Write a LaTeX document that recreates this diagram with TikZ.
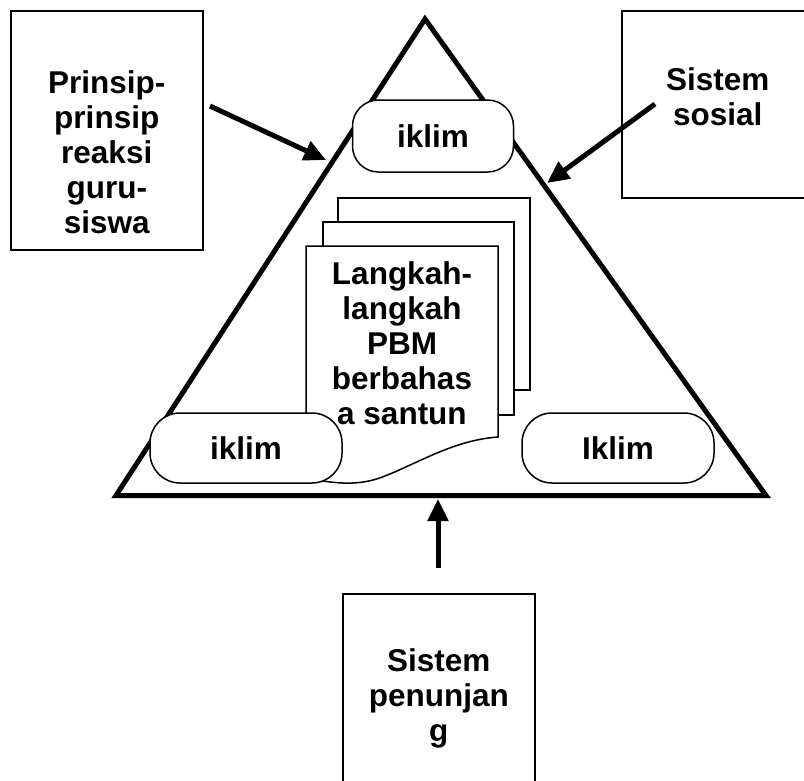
\documentclass[tikz,border=0pt]{standalone}
\usepackage{fontspec}
\setmainfont{Liberation Sans}
\usepackage{tikz}
\usetikzlibrary{arrows.meta,positioning,calc}

\begin{document}
\begin{tikzpicture}[
    x=1pt, y=-1pt,
    font=\fontsize{31.5}{35}\selectfont\bfseries,
    sidebox/.style={rectangle, draw, line width=1.5pt, minimum width=192pt, anchor=north west, inner sep=0pt},
    boxtext/.style={align=center, anchor=north, inner sep=0pt},
    iklim/.style={rectangle, rounded corners=30pt, draw, line width=1.5pt, fill=white, minimum height=70pt, inner sep=0pt},
    page/.style={rectangle, draw, line width=1.5pt, fill=white, anchor=north west, inner sep=0pt},
    pointer/.style={line width=5pt, -{Triangle[length=22pt,width=20pt]}}
]
\useasboundingbox (0,0) rectangle (804,780);

\coordinate (apex) at (425,19);
\coordinate (baseL) at (116,495.5);
\coordinate (baseR) at (766,495.5);
\draw[line width=5pt] (apex) -- (baseR) -- (baseL) -- cycle;

% stacked pages
\node[page, minimum width=192pt, minimum height=192pt] (page3) at (337,197) {};
\node[page, minimum width=191pt, minimum height=193pt] (page2) at (322,221) {};
\draw[line width=1.5pt, fill=white] (306,246) -- (498,246) -- (498,437)
    .. controls (455,440) and (420,462) .. (385,476)
    .. controls (365,484) and (345,486) .. (306,478) -- cycle;
\node[boxtext] (steps) at (402,261) {Langkah-\\langkah\\PBM\\berbahas\\a santun};

\node[iklim, minimum width=161pt, minimum height=72pt, rounded corners=26pt] (iklimtop) at (433,136) {iklim};
\node[iklim, minimum width=192pt] (iklimleft) at (246,448) {iklim};
\node[iklim, minimum width=192pt] (iklimright) at (618,448) {Iklim};

\node[sidebox, minimum height=239pt] (reaksi) at (10,10) {};
\node[boxtext, below=60pt of reaksi.north] (reaksitext) {Prinsip-\\prinsip\\reaksi\\guru-\\siswa};
\node[sidebox, minimum height=187pt] (sosial) at (621,10) {};
\node[boxtext, below=57pt of sosial.north] (sosialtext) {Sistem\\sosial};
\node[sidebox, minimum height=200pt] (penunjang) at (342,593) {};
\node[boxtext, below=55pt of penunjang.north] (penunjangtext) {Sistem\\penunjan\\g};

\coordinate (tailL) at (210,106);
\coordinate (tipL) at (326,160);
\coordinate (tailR) at (655,104);
\coordinate (tipR) at (547,183);
\coordinate (tailB) at (438,568);
\coordinate (tipB) at (438,499);
\draw[pointer] (tailL) -- (tipL);
\draw[pointer] (tailR) -- (tipR);
\draw[pointer] (tailB) -- (tipB);

\end{tikzpicture}
\end{document}
